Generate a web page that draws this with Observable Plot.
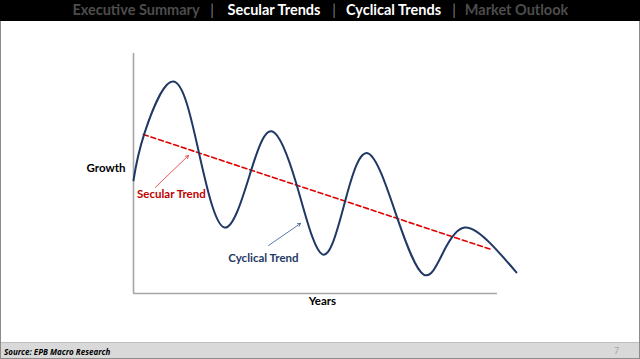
<!DOCTYPE html>
<html>
<head>
<meta charset="utf-8">
<script src="https://cdn.jsdelivr.net/npm/d3@7"></script>
<script src="https://cdn.jsdelivr.net/npm/@observablehq/plot@0.6"></script>
<style>
  html, body { margin: 0; padding: 0; background: #fff; }
  #slide { position: relative; width: 640px; height: 359px; overflow: hidden; background: #fff; font-family: Lato, "Open Sans", sans-serif; box-sizing: border-box; }
  #header { position: absolute; left: 0; top: 0; width: 640px; height: 21px; background: #000; }
  .nav { position: absolute; top: 0; height: 21px; line-height: 20px; font-size: 14.5px; font-weight: 700; transform: translateX(-50%); white-space: nowrap; }
  #chart { position: absolute; left: 0; top: 22px; }
  #footer { position: absolute; left: 0; top: 342px; width: 640px; height: 17px; background: #d9d9d9; border-top: 1px solid #bfbfbf; box-sizing: border-box; }
  #source { position: absolute; left: 4px; top: 3px; font-size: 8px; font-weight: 700; font-style: italic; color: #000; font-family: "Open Sans", Lato, sans-serif; }
  #page { position: absolute; left: 614px; top: 2px; font-size: 9px; color: #a6a6a6; }
  #frame { position: absolute; left: 0; top: 21px; width: 640px; height: 338px; border-left: 1px solid #8c8c8c; border-right: 1px solid #8c8c8c; border-bottom: 1px solid #8c8c8c; box-sizing: border-box; pointer-events: none; }
</style>
</head>
<body>
<div id="slide">
  <div id="header"></div>
  <div id="chart"></div>
  <div id="footer"><span id="source"></span><span id="page"></span></div>
  <div id="frame"></div>
</div>
<script>
// Navigation header
const navItems = ["Executive Summary", "|", "Secular Trends", "|", "Cyclical Trends", "|", "Market Outlook"];
const navActive = [false, null, true, null, true, null, false];
const navCenters = [136, 212, 274, 334, 393.5, 454, 516.5];

// Cyclical trend curve (years, growth): peaks, troughs and crossings
const cycYears  = [0, 3.0, 11.0, 17.9, 25.0, 32.4, 38.2, 44.8, 51.9, 58.2, 64.6, 72.5, 79.7, 85.2, 90.9, 98.1, 105.2];
const cycGrowth = [47.1, 66.7, 88.3, 59.2, 27.5, 51.7, 67.5, 45.4, 16.3, 38.8, 58.3, 31.3, 7.9, 17.5, 27.5, 20.8, 8.8];

// Secular trend (dashed straight line)
const secYears  = [2.7, 98.35];
const secGrowth = [66.25, 18.3];

// Annotation labels
const labelText  = ["Secular Trend", "Cyclical Trend"];
const labelX     = [10.4, 35.7];
const labelY     = [41.25, 14.6];
const arrowX1 = [6.0, 37.1], arrowY1 = [44.2, 20.0];
const arrowX2 = [15.1, 45.9], arrowY2 = [57.5, 29.2];

const axisTitles = ["Growth", "Years"];
const sourceText = "Source: EPB Macro Research";
const pageNumber = "7";

// header
const header = document.getElementById("header");
navItems.forEach((t, i) => {
  const s = document.createElement("span");
  s.className = "nav";
  s.textContent = t;
  s.style.left = navCenters[i] + "px";
  s.style.color = navActive[i] === true ? "#ffffff" : (navActive[i] === false ? "#4d4d4d" : "#7f7f7f");
  if (t === "|") s.style.fontWeight = "400";
  header.appendChild(s);
});
document.getElementById("source").textContent = sourceText;
document.getElementById("page").textContent = pageNumber;

const cyc = cycYears.map((x, i) => ({x, y: cycGrowth[i]}));
const sec = secYears.map((x, i) => ({x, y: secGrowth[i]}));
const labels = labelText.map((t, i) => ({t, x: labelX[i], y: labelY[i]}));
const arrows = arrowX1.map((x1, i) => ({x1, y1: arrowY1[i], x2: arrowX2[i], y2: arrowY2[i]}));
const arrowColors = ["#e03030", "#2f5597"];
const labelColors = ["#c00000", "#1f3864"];

const chart = Plot.plot({
  width: 640,
  height: 320,
  marginLeft: 133,
  marginRight: 143,
  marginTop: 31,
  marginBottom: 49,
  x: {domain: [0, 100], axis: null},
  y: {domain: [0, 100], axis: null},
  style: {background: "transparent", overflow: "visible", fontFamily: "Lato, 'Open Sans', sans-serif"},
  marks: [
    Plot.ruleX([0], {y1: 0, y2: 100, stroke: "#a6a6a6", strokeWidth: 1.6}),
    Plot.ruleY([0], {x1: 0, x2: 100, stroke: "#a6a6a6", strokeWidth: 1.6}),
    Plot.line(sec, {x: "x", y: "y", stroke: "#e00000", strokeWidth: 1.6, strokeDasharray: "5,3"}),
    Plot.line(cyc, {x: "x", y: "y", curve: "natural", stroke: "#1f3864", strokeWidth: 2}),
    Plot.arrow(arrows, {x1: "x1", y1: "y1", x2: "x2", y2: "y2", stroke: (d, i) => arrowColors[i], strokeWidth: 0.8, headLength: 6}),
    Plot.text(labels, {x: "x", y: "y", text: "t", fill: (d, i) => labelColors[i], fontSize: 11.5, fontWeight: 700, textAnchor: "middle"}),
    Plot.text([axisTitles[0]], {x: -2.2, y: 52.1, text: d => d, fill: "#000", fontSize: 11.5, fontWeight: 700, textAnchor: "end"}),
    Plot.text([axisTitles[1]], {x: 51.9, y: -3.3, text: d => d, fill: "#000", fontSize: 11.5, fontWeight: 700, textAnchor: "middle"})
  ]
});
document.getElementById("chart").appendChild(chart);
</script>
</body>
</html>
